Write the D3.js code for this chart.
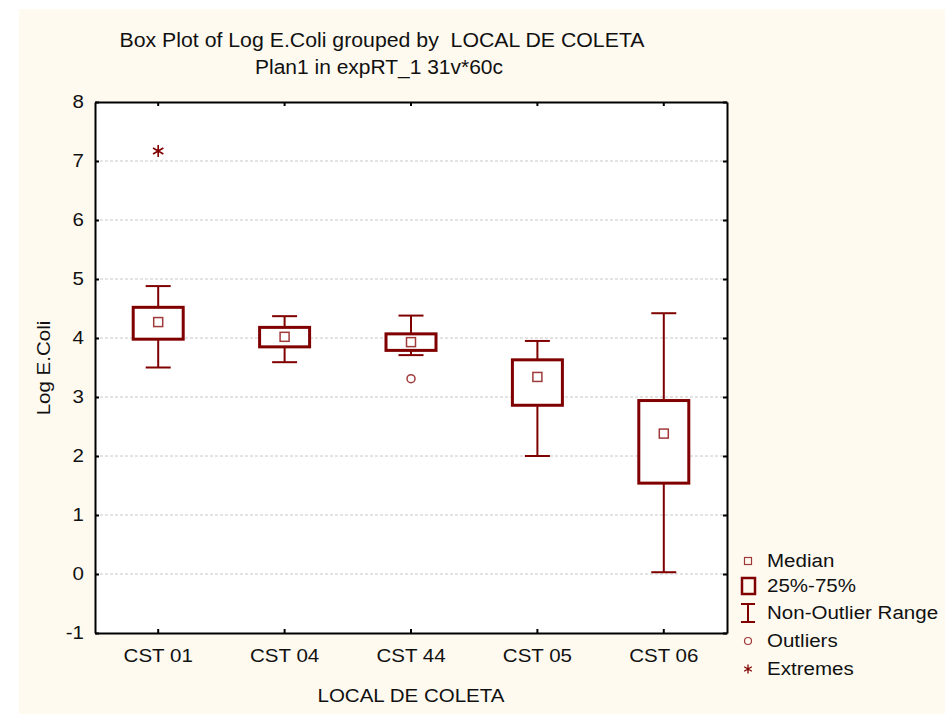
<!DOCTYPE html>
<html>
<head>
<meta charset="utf-8">
<script src="https://cdn.jsdelivr.net/npm/d3@7"></script>
<style>
  html, body { margin: 0; padding: 0; background: #ffffff; }
  svg { display: block; }
  text { font-family: "Liberation Sans", Arial, sans-serif; fill: #111; white-space: pre; }
</style>
</head>
<body>
<svg id="chart" width="945" height="714"></svg>
<script>
// Box plot summary per sampling site
const categories = ["CST 01", "CST 04", "CST 44", "CST 05", "CST 06"];
const medians   = [4.27, 4.02, 3.93, 3.34, 2.38];
const q1        = [3.98, 3.85, 3.79, 2.86, 1.54];
const q3        = [4.52, 4.18, 4.07, 3.63, 2.94];
const whiskLow  = [3.50, 3.59, 3.71, 2.00, 0.03];
const whiskHigh = [4.88, 4.37, 4.38, 3.95, 4.42];
const outliers  = [[], [], [3.31], [], []];
const extremes  = [[7.17], [], [], [], []];
const yTicks    = [-1, 0, 1, 2, 3, 4, 5, 6, 7, 8];
const legendItems = ["Median", "25%-75%", "Non-Outlier Range", "Outliers", "Extremes"];

const dark = "#800000";
const light = "#a03a3a";
const fontSize = 18;
const widen = 1.14;   // labels are drawn slightly wide
const svg = d3.select("#chart");

// stretch text horizontally by a fixed factor
function stretch(sel, factor) {
  sel.each(function () {
    const w = this.getComputedTextLength();
    d3.select(this).attr("textLength", w * factor).attr("lengthAdjust", "spacingAndGlyphs");
  });
}

// background panel
svg.append("rect").attr("x", 19).attr("y", 9).attr("width", 926).attr("height", 705)
  .attr("fill", "#fefaf0");

const plot = { left: 95, top: 102, right: 727, bottom: 633 };

const x = d3.scaleBand().domain(categories).range([plot.left, plot.right]);
const y = d3.scaleLinear().domain([-1, 8]).range([plot.bottom, plot.top]);

svg.append("rect")
  .attr("x", plot.left).attr("y", plot.top)
  .attr("width", plot.right - plot.left).attr("height", plot.bottom - plot.top)
  .attr("fill", "#ffffff");

// dashed grid lines
svg.append("g").selectAll("line").data(yTicks.filter(d => d > -1 && d < 8)).join("line")
  .attr("x1", plot.left).attr("x2", plot.right)
  .attr("y1", d => y(d)).attr("y2", d => y(d))
  .attr("stroke", "#c8c8c8").attr("stroke-width", 1).attr("stroke-dasharray", "3,2");

// axes with inward ticks on all four sides
const axL = svg.append("g").attr("transform", `translate(${plot.left},0)`)
  .call(d3.axisLeft(y).tickValues(yTicks).tickSize(-4).tickSizeOuter(0).tickPadding(11)
    .tickFormat(d => String(d)));
const axR = svg.append("g").attr("transform", `translate(${plot.right},0)`)
  .call(d3.axisRight(y).tickValues(yTicks).tickSize(-4).tickSizeOuter(0).tickFormat(""));
const axB = svg.append("g").attr("transform", `translate(0,${plot.bottom})`)
  .call(d3.axisBottom(x).tickSize(-4).tickSizeOuter(0));
const axT = svg.append("g").attr("transform", `translate(0,${plot.top})`)
  .call(d3.axisTop(x).tickSize(-4).tickSizeOuter(0).tickFormat(""));
[axL, axR, axB, axT].forEach(g => {
  g.select(".domain").attr("stroke", "#000").attr("stroke-width", 2);
  g.selectAll(".tick line").attr("stroke", "#000").attr("stroke-width", 2);
  g.selectAll(".tick text").attr("font-size", fontSize).attr("fill", "#111")
    .attr("font-family", "Liberation Sans, Arial, sans-serif");
});
axB.selectAll(".tick text").attr("y", 29).attr("dy", 0);
stretch(axL.selectAll(".tick text"), widen);
stretch(axB.selectAll(".tick text"), widen);

const cx = d => x(d) + x.bandwidth() / 2;
const boxW = 50, capW = 25, medS = 9;

const groups = svg.append("g").selectAll("g").data(categories).join("g");

// whiskers
groups.append("line")
  .attr("x1", cx).attr("x2", cx)
  .attr("y1", (d, i) => y(whiskHigh[i])).attr("y2", (d, i) => y(q3[i]))
  .attr("stroke", dark).attr("stroke-width", 2);
groups.append("line")
  .attr("x1", cx).attr("x2", cx)
  .attr("y1", (d, i) => y(q1[i])).attr("y2", (d, i) => y(whiskLow[i]))
  .attr("stroke", dark).attr("stroke-width", 2);
groups.append("line")
  .attr("x1", d => cx(d) - capW / 2).attr("x2", d => cx(d) + capW / 2)
  .attr("y1", (d, i) => y(whiskHigh[i])).attr("y2", (d, i) => y(whiskHigh[i]))
  .attr("stroke", dark).attr("stroke-width", 2);
groups.append("line")
  .attr("x1", d => cx(d) - capW / 2).attr("x2", d => cx(d) + capW / 2)
  .attr("y1", (d, i) => y(whiskLow[i])).attr("y2", (d, i) => y(whiskLow[i]))
  .attr("stroke", dark).attr("stroke-width", 2);

// interquartile boxes
groups.append("rect")
  .attr("x", d => cx(d) - boxW / 2).attr("width", boxW)
  .attr("y", (d, i) => y(q3[i])).attr("height", (d, i) => y(q1[i]) - y(q3[i]))
  .attr("fill", "#ffffff").attr("stroke", dark).attr("stroke-width", 3);

// medians
groups.append("rect")
  .attr("x", d => cx(d) - medS / 2).attr("width", medS)
  .attr("y", (d, i) => y(medians[i]) - medS / 2).attr("height", medS)
  .attr("fill", "none").attr("stroke", light).attr("stroke-width", 1.5);

// outliers and extremes
groups.each(function (d, i) {
  d3.select(this).selectAll("circle").data(outliers[i]).join("circle")
    .attr("cx", cx(d)).attr("cy", v => y(v)).attr("r", 4)
    .attr("fill", "none").attr("stroke", light).attr("stroke-width", 1.5);
  d3.select(this).selectAll("path.ext").data(extremes[i]).join("path")
    .attr("class", "ext")
    .attr("transform", v => `translate(${cx(d)},${y(v)})`)
    .attr("d", d3.symbol(d3.symbolAsterisk, 100)())
    .attr("fill", "none").attr("stroke", dark).attr("stroke-width", 1.6);
});

// titles
svg.append("text").attr("x", 382).attr("y", 47).attr("text-anchor", "middle")
  .attr("font-size", 20).attr("textLength", 525).attr("lengthAdjust", "spacingAndGlyphs")
  .text("Box Plot of Log E.Coli grouped by  LOCAL DE COLETA");
svg.append("text").attr("x", 379).attr("y", 74).attr("text-anchor", "middle")
  .attr("font-size", 20).attr("textLength", 248).attr("lengthAdjust", "spacingAndGlyphs")
  .text("Plan1 in expRT_1 31v*60c");
const xTitle = svg.append("text").attr("x", 411).attr("y", 702).attr("text-anchor", "middle")
  .attr("font-size", fontSize).text("LOCAL DE COLETA");
stretch(xTitle, widen);
const yTitle = svg.append("text").attr("transform", "translate(50,368) rotate(-90)")
  .attr("text-anchor", "middle").attr("font-size", fontSize).text("Log E.Coli");
stretch(yTitle, widen);

// legend
const legY = [561, 586, 613, 641, 669];
const leg = svg.append("g");
const legText = leg.selectAll("text").data(legendItems).join("text")
  .attr("x", 767).attr("y", (d, i) => legY[i]).attr("dy", "0.35em")
  .attr("font-size", fontSize).text(d => d);
stretch(legText, widen);
const lx = 748;
leg.append("rect").attr("x", lx - 3.5).attr("y", legY[0] - 3.5).attr("width", 7).attr("height", 7)
  .attr("fill", "none").attr("stroke", light).attr("stroke-width", 1.2);
leg.append("rect").attr("x", lx - 6).attr("y", legY[1] - 8).attr("width", 13).attr("height", 16)
  .attr("fill", "none").attr("stroke", dark).attr("stroke-width", 2.5);
leg.append("path")
  .attr("d", `M${lx - 7},${legY[2] - 9}H${lx + 7}M${lx},${legY[2] - 9}V${legY[2] + 9}M${lx - 7},${legY[2] + 9}H${lx + 7}`)
  .attr("fill", "none").attr("stroke", dark).attr("stroke-width", 2);
leg.append("circle").attr("cx", lx).attr("cy", legY[3]).attr("r", 3.5)
  .attr("fill", "none").attr("stroke", light).attr("stroke-width", 1.2);
leg.append("path").attr("transform", `translate(${lx},${legY[4]})`)
  .attr("d", d3.symbol(d3.symbolAsterisk, 55)())
  .attr("fill", "none").attr("stroke", dark).attr("stroke-width", 1.3);
</script>
</body>
</html>
